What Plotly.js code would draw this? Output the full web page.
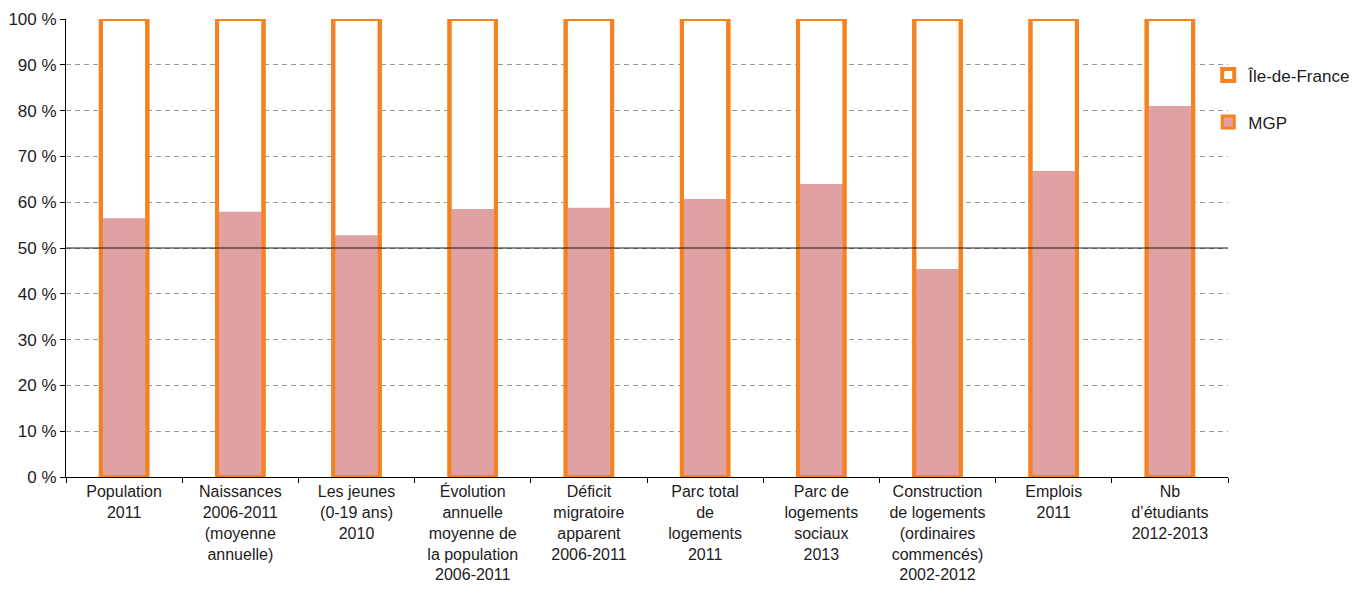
<!DOCTYPE html>
<html><head><meta charset="utf-8">
<script src="https://cdn.plot.ly/plotly-3.0.1.min.js"></script>
<style>html,body{margin:0;padding:0;background:#fff}#chart{width:1370px;height:593px}</style>
</head><body><div id="chart"></div>
<script>
const categories = [
  "Population<br>2011",
  "Naissances<br>2006-2011<br>(moyenne<br>annuelle)",
  "Les jeunes<br>(0-19 ans)<br>2010",
  "Évolution<br>annuelle<br>moyenne de<br>la population<br>2006-2011",
  "Déficit<br>migratoire<br>apparent<br>2006-2011",
  "Parc total<br>de<br>logements<br>2011",
  "Parc de<br>logements<br>sociaux<br>2013",
  "Construction<br>de logements<br>(ordinaires<br>commencés)<br>2002-2012",
  "Emplois<br>2011",
  "Nb<br>d’étudiants<br>2012-2013"
];
const idf = [100,100,100,100,100,100,100,100,100,100];
const mgp = [56.5,57.9,52.8,58.5,58.8,60.7,64.0,45.4,66.8,81.0];
const seriesNames = ["Île-de-France","MGP"];
const yTicks = [0,10,20,30,40,50,60,70,80,90,100];

const ORANGE = "#F5821F", PINK = "#E0A1A3";
const font = "Liberation Sans, Arial, sans-serif";

const traces = [
  {type:"bar", x:categories, y:idf, name:seriesNames[0], legendgroup:"a",
   marker:{color:"#ffffff", line:{color:ORANGE, width:4}}, hoverinfo:"skip"},
  {type:"bar", x:categories, y:mgp, name:seriesNames[1], showlegend:false,
   marker:{color:PINK, line:{width:0}}, hoverinfo:"skip"},
  {type:"bar", x:categories, y:idf, name:seriesNames[0], showlegend:false,
   marker:{color:"rgba(0,0,0,0)", line:{color:ORANGE, width:4}}, hoverinfo:"skip"},
  {type:"bar", x:[categories[0]], y:[null], name:seriesNames[1], legendgroup:"b",
   marker:{color:PINK, line:{color:ORANGE, width:3}}, hoverinfo:"skip"}
];

const layout = {
  width:1370, height:593,
  margin:{l:66, r:142, t:19, b:116},
  paper_bgcolor:"#fff", plot_bgcolor:"#fff",
  barmode:"overlay", bargap:0.6,
  font:{family:font, color:"#1e1b1c", size:16},
  xaxis:{type:"category", showline:true, linecolor:"#000", linewidth:1,
    ticks:"outside", tickson:"boundaries", ticklen:5, tickcolor:"#000",
    tickfont:{size:16}, showgrid:false, zeroline:false, fixedrange:true},
  yaxis:{range:[0,100], tickvals:yTicks, ticktext:yTicks.map(v=>v+" %"),
    showline:true, linecolor:"#000", linewidth:1, ticks:"outside", ticklen:5,
    tickcolor:"#000", tickfont:{size:17}, showgrid:true, gridcolor:"#999999",
    griddash:"5px,4px", gridwidth:1, zeroline:false, fixedrange:true},
  legend:{x:0.983, xanchor:"left", y:0.916, yanchor:"top", traceorder:"grouped",
    tracegroupgap:22, font:{size:17}, bgcolor:"rgba(0,0,0,0)"},
  shapes:[{type:"line", xref:"paper", x0:0, x1:1, yref:"y", y0:50, y1:50,
    line:{color:"#1a1a1a", width:1.2}, layer:"above"}],
  showlegend:true
};

Plotly.newPlot("chart", traces, layout, {displayModeBar:false, staticPlot:true});
</script></body></html>
